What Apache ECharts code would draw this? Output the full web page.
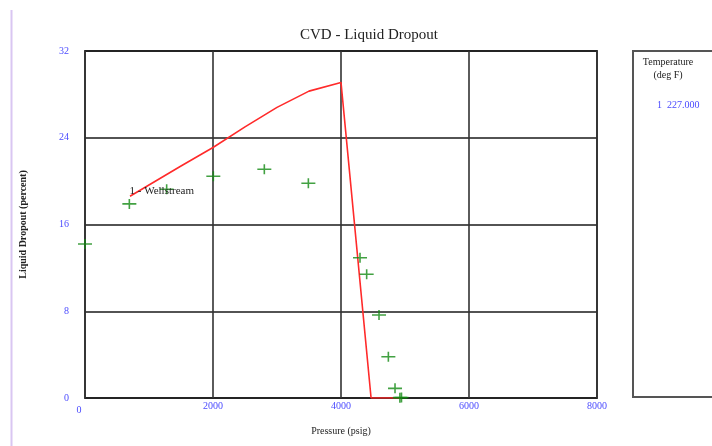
<!DOCTYPE html>
<html>
<head>
<meta charset="utf-8">
<script src="https://cdn.jsdelivr.net/npm/echarts@6/dist/echarts.min.js"></script>
<style>
html,body{margin:0;padding:0;background:#fff;}
#c{width:712px;height:446px;}
</style>
</head>
<body>
<div id="c"></div>
<script>
// Calculated liquid dropout curve (pressure psig, percent)
var calcPressure = [703, 1500, 2000, 2500, 3000, 3500, 4000, 4470, 4930];
var calcDropout  = [18.6, 21.4, 23.1, 25.0, 26.8, 28.3, 29.1, 0, 0];
// Observed data (pressure psig, percent)
var obsPressure = [0, 693, 1276, 2005, 2802, 3490, 4297, 4401, 4594, 4740, 4844, 4920, 4945];
var obsDropout  = [14.2, 17.9, 19.25, 20.45, 21.1, 19.8, 12.94, 11.41, 7.66, 3.81, 0.89, 0.03, 0.05];
var xTicks = [0, 2000, 4000, 6000, 8000];
var yTicks = [0, 8, 16, 24, 32];
var legendTitle = ['Temperature', '(deg F)'];
var legendEntries = ['1  227.000'];
var curveLabel = '1 - Wellstream';

var calcData = calcPressure.map(function(p, i){ return [p, calcDropout[i]]; });
var obsData = obsPressure.map(function(p, i){ return [p, obsDropout[i]]; });

var serif = '"Liberation Serif", "Times New Roman", serif';
var chart = echarts.init(document.getElementById('c'), null, {renderer: 'canvas'});
chart.setOption({
  animation: false,
  title: {
    text: 'CVD - Liquid Dropout',
    left: 295, top: 23,
    textStyle: {fontFamily: serif, fontSize: 15, fontWeight: 'normal', color: '#222'}
  },
  grid: {left: 85, top: 51, width: 512, height: 347, show: true, borderColor: '#444', borderWidth: 2, backgroundColor: 'transparent'},
  xAxis: {
    type: 'value', min: xTicks[0], max: xTicks[xTicks.length-1], interval: 2000,
    name: 'Pressure (psig)', nameLocation: 'middle', nameGap: 28,
    nameTextStyle: {fontFamily: serif, fontSize: 10, color: '#222'},
    axisLine: {show: false}, axisTick: {show: false},
    axisLabel: {
      margin: 3, fontFamily: serif, fontSize: 10, color: '#4b4bff',
      formatter: function(v){ return v === 0 ? '{z|0}' : String(v); },
      rich: {z: {fontFamily: serif, fontSize: 10, color: '#4b4bff', padding: [4, 12, 0, 0]}}
    },
    splitLine: {show: true, lineStyle: {color: '#333', width: 1.6}}
  },
  yAxis: {
    type: 'value', min: yTicks[0], max: yTicks[yTicks.length-1], interval: 8,
    name: 'Liquid Dropout (percent)', nameLocation: 'middle', nameGap: 57,
    nameTextStyle: {fontFamily: serif, fontSize: 10, fontWeight: 'bold', color: '#222'},
    axisLine: {show: false}, axisTick: {show: false},
    axisLabel: {margin: 16, fontFamily: serif, fontSize: 10, color: '#4b4bff'},
    splitLine: {show: true, lineStyle: {color: '#1a1a1a', width: 1.6}}
  },
  series: [
    {
      type: 'line', data: calcData, showSymbol: false, symbol: 'none',
      lineStyle: {color: '#ff2a2a', width: 1.6}, z: 3,
      markPoint: {
        symbol: 'rect', symbolSize: 1,
        itemStyle: {color: 'transparent'},
        data: [{coord: calcData[0], label: {show: true, formatter: curveLabel, position: 'right', offset: [-6, -5],
          fontFamily: serif, fontSize: 11, color: '#222'}}]
      }
    },
    {
      type: 'scatter', data: obsData,
      symbol: 'path://M0,4.2h14v1.6h-14z M6.2,0h1.6v10h-1.6z',
      symbolSize: [14, 10],
      itemStyle: {color: '#138a13'}, z: 4
    }
  ],
  graphic: [
    {type: 'line', shape: {x1: 11.5, y1: 10, x2: 11.5, y2: 446}, style: {stroke: '#d9c6f2', lineWidth: 2}},
    {type: 'rect', shape: {x: 633, y: 51, width: 100, height: 346}, style: {fill: 'none', stroke: '#555', lineWidth: 2}},
    {type: 'text', x: 668, y: 56, style: {text: legendTitle.join('\n'), fontFamily: serif, fontSize: 10, fill: '#222', align: 'center', lineHeight: 13}},
    {type: 'text', x: 657, y: 99, style: {text: legendEntries.join('\n'), fontFamily: serif, fontSize: 10, fill: '#4b4bff', lineHeight: 12}}
  ]
});
</script>
</body>
</html>
